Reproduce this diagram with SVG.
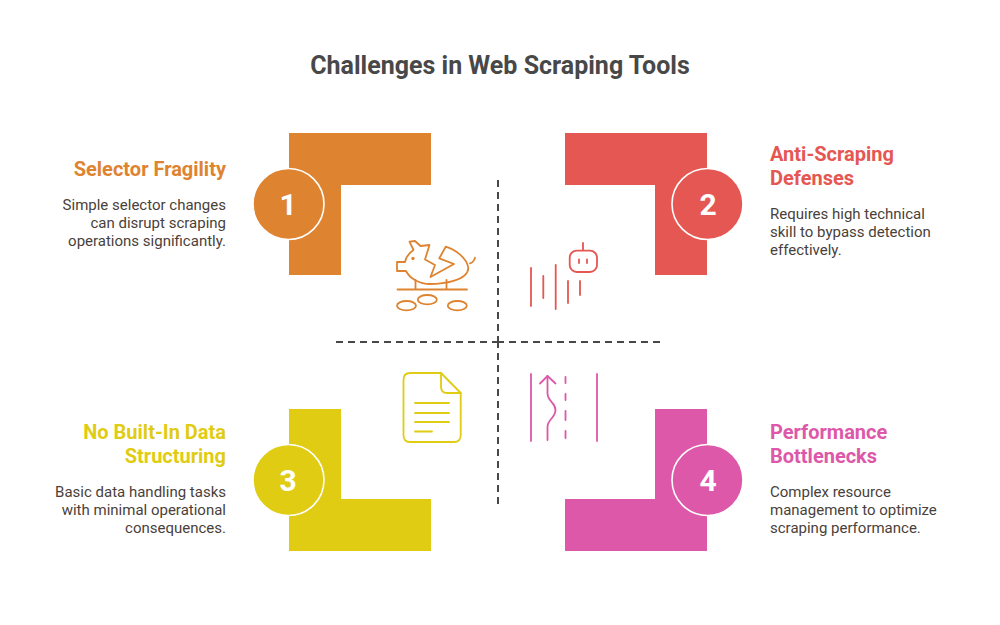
<svg xmlns="http://www.w3.org/2000/svg" width="1000" height="625" viewBox="0 0 1000 625">
<style>
text{font-family:Roboto,"Liberation Sans",sans-serif}
.title{font-size:25px;font-weight:700;fill:#484848;text-anchor:middle}
.h{font-size:20px;font-weight:700}
.b{font-size:15px;fill:#4a3f3a}
.e{text-anchor:end}
.num{font-size:30px;font-weight:700;fill:#fff;text-anchor:middle}
.ring{stroke:#fff;stroke-width:1.600}
.ic{fill:none;stroke-width:1.800;stroke-linecap:round;stroke-linejoin:round}
.div{stroke:#484848;stroke-width:2;stroke-dasharray:7 5;fill:none}
</style>
<rect width="1000" height="625" fill="#fff"/>
<text class="title" x="500" y="74">Challenges in Web Scraping Tools</text>
<g id="connectors">
<path class="div" d="M498 180V342M498 504V342"/>
<path class="div" d="M336 342H498M660 342H498"/>
</g>
<g id="node-1">
<path d="M289 133H431V185H341V275H289Z" fill="#de8431"/>
<circle class="ring" cx="288.500" cy="204" r="35.500" fill="#de8431"/>
<text class="num" x="288" y="214.500">1</text>
<text class="h e" x="226" y="176" fill="#de8431">Selector Fragility</text>
<text class="b e" x="226" y="210">Simple selector changes</text>
<text class="b e" x="226" y="228">can disrupt scraping</text>
<text class="b e" x="226" y="246">operations significantly.</text>
<g class="ic" stroke="#de8431">
<path d="M430.500 277L435 265L425 259.500L429.500 245L420.500 246L415 241L409.500 241.700L413.500 250C409 253 406 257 405 262H397V271H406C410 279 420 284 430 284C442 284 468 281 468.300 268C467 258 456 250 445.700 246.700L439.300 258.300L454 264Z"/>
<path d="M470 263.300C472 263 474 261 475 257.700"/>
<path d="M415.500 280V289M446.500 280V289M397.500 289.500H467"/>
<ellipse cx="406.500" cy="305.700" rx="9.500" ry="4.700"/>
<ellipse cx="427.300" cy="299.700" rx="9.500" ry="4.700"/>
<ellipse cx="457.300" cy="305.700" rx="9.500" ry="4.700"/>
<circle cx="413" cy="258.500" r="0.800" fill="#de8431"/>
</g>
</g>
<g id="node-2">
<path d="M565 133H707V275H655V185H565Z" fill="#e55753"/>
<circle class="ring" cx="707.500" cy="204" r="35.500" fill="#e55753"/>
<text class="num" x="708" y="214.500">2</text>
<text class="h" x="770" y="161" fill="#e55753">Anti-Scraping</text>
<text class="h" x="770" y="185" fill="#e55753">Defenses</text>
<text class="b" x="770" y="219">Requires high technical</text>
<text class="b" x="770" y="237">skill to bypass detection</text>
<text class="b" x="770" y="255">effectively.</text>
<g class="ic" stroke="#e55753">
<path d="M531 268V306M543.300 276V298M555.700 265V309M568 281V303M580 281V295"/>
<rect x="569.700" y="250.700" width="27.300" height="21.300" rx="7"/>
<path d="M583 243V250M579 259.500V263M587 259.500V263"/>
</g>
</g>
<g id="node-3">
<path d="M289 409H341V499H431V551H289Z" fill="#dfcc13"/>
<circle class="ring" cx="288.500" cy="480" r="35.500" fill="#dfcc13"/>
<text class="num" x="288" y="490.500">3</text>
<text class="h e" x="226" y="439" fill="#dfcc13">No Built-In Data</text>
<text class="h e" x="226" y="463" fill="#dfcc13">Structuring</text>
<text class="b e" x="226" y="497">Basic data handling tasks</text>
<text class="b e" x="226" y="515">with minimal operational</text>
<text class="b e" x="226" y="533">consequences.</text>
<g class="ic" stroke="#dfcc13">
<path d="M441 373H410Q403.500 373 403.500 380V435Q403.500 442 410 442H454Q460.700 442 460.700 435V393Z"/>
<path d="M441 373V387Q441 393 447 393H460.700"/>
<path d="M415 403H449M415 413H449M415 422H449M415 431.500H432"/>
</g>
</g>
<g id="node-4">
<path d="M655 409H707V551H565V499H655Z" fill="#dd58a9"/>
<circle class="ring" cx="707.500" cy="480" r="35.500" fill="#dd58a9"/>
<text class="num" x="708" y="490.500">4</text>
<text class="h" x="770" y="439" fill="#dd58a9">Performance</text>
<text class="h" x="770" y="463" fill="#dd58a9">Bottlenecks</text>
<text class="b" x="770" y="497">Complex resource</text>
<text class="b" x="770" y="515">management to optimize</text>
<text class="b" x="770" y="533">scraping performance.</text>
<g class="ic" stroke="#dd58a9">
<path d="M531 374V441M597 374V441"/>
<path d="M565.500 377V383M565.500 394V400M565.500 411V420M565.500 431V438"/>
<path d="M547.500 376V393C547.500 402 555.500 402 555.500 410C555.500 418 547.500 419 547.500 427V440"/>
<path d="M540 383.500L547.500 376L555.500 383.500"/>
</g>
</g>
</svg>
